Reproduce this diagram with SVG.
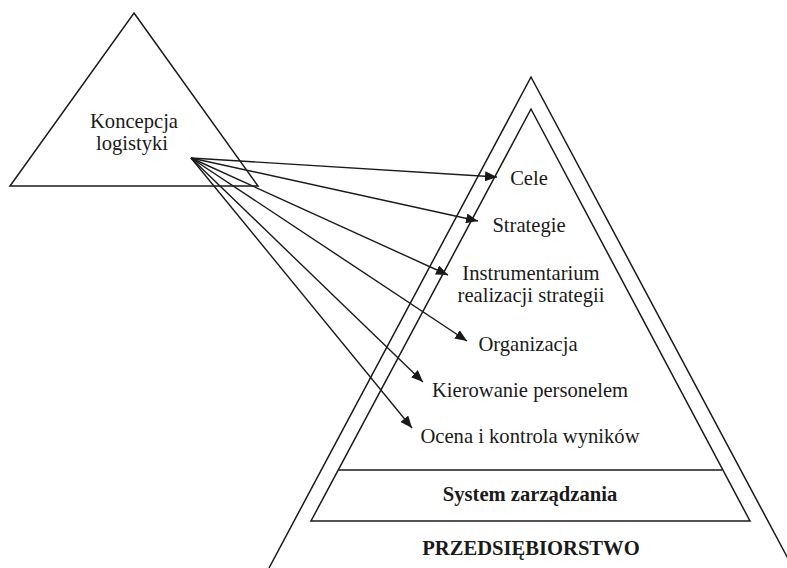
<svg xmlns="http://www.w3.org/2000/svg" width="787" height="568" viewBox="0 0 787 568">
<defs>
<style>
.s{fill:none;stroke:#1a1a1a;stroke-width:1.5;stroke-linejoin:miter}
.c{fill:none;stroke:#1a1a1a;stroke-width:1.4}
.t{font-family:"Liberation Serif","Times New Roman",serif;font-size:20.6px;fill:#1a1a1a;text-anchor:middle}
.b{font-weight:bold}
</style>
<marker id="ah" viewBox="0 0 12 10" refX="12" refY="5" markerWidth="12" markerHeight="10" markerUnits="userSpaceOnUse" orient="auto">
<path d="M0,0 L12,5 L0,10 Z" fill="#1a1a1a"/>
</marker>
</defs>
<rect width="787" height="568" fill="#fff"/>
<g id="koncepcja">
<path class="s" d="M134,13 L258,186 L10,186 Z"/>
<text class="t" x="134" y="128">Koncepcja</text>
<text class="t" x="132" y="150">logistyki</text>
</g>
<g id="przedsiebiorstwo">
<path class="s" d="M269,568 L531,77 L793,568"/>
<text class="t b" x="531" y="555">PRZEDSIĘBIORSTWO</text>
</g>
<g id="system">
<path class="s" d="M531,109 L750,521 L311,521 Z"/>
<line class="s" x1="339" y1="470" x2="722" y2="470"/>
<text class="t b" x="530" y="501">System zarządzania</text>
</g>
<g id="cele"><text class="t" x="529" y="185">Cele</text></g>
<g id="strategie"><text class="t" x="529" y="232">Strategie</text></g>
<g id="instrumentarium"><text class="t" x="531" y="280">Instrumentarium</text><text class="t" x="531" y="302">realizacji strategii</text></g>
<g id="organizacja"><text class="t" x="528" y="351">Organizacja</text></g>
<g id="kierowanie"><text class="t" x="530" y="397">Kierowanie personelem</text></g>
<g id="ocena"><text class="t" x="530" y="443">Ocena i kontrola wyników</text></g>
<g id="connectors">
<line class="c" x1="191" y1="158" x2="497" y2="177" marker-end="url(#ah)"/>
<line class="c" x1="191" y1="158" x2="478" y2="221" marker-end="url(#ah)"/>
<line class="c" x1="191" y1="158" x2="448" y2="275" marker-end="url(#ah)"/>
<line class="c" x1="191" y1="158" x2="467" y2="341" marker-end="url(#ah)"/>
<line class="c" x1="191" y1="158" x2="423" y2="382" marker-end="url(#ah)"/>
<line class="c" x1="191" y1="158" x2="412" y2="428" marker-end="url(#ah)"/>
</g>
</svg>
